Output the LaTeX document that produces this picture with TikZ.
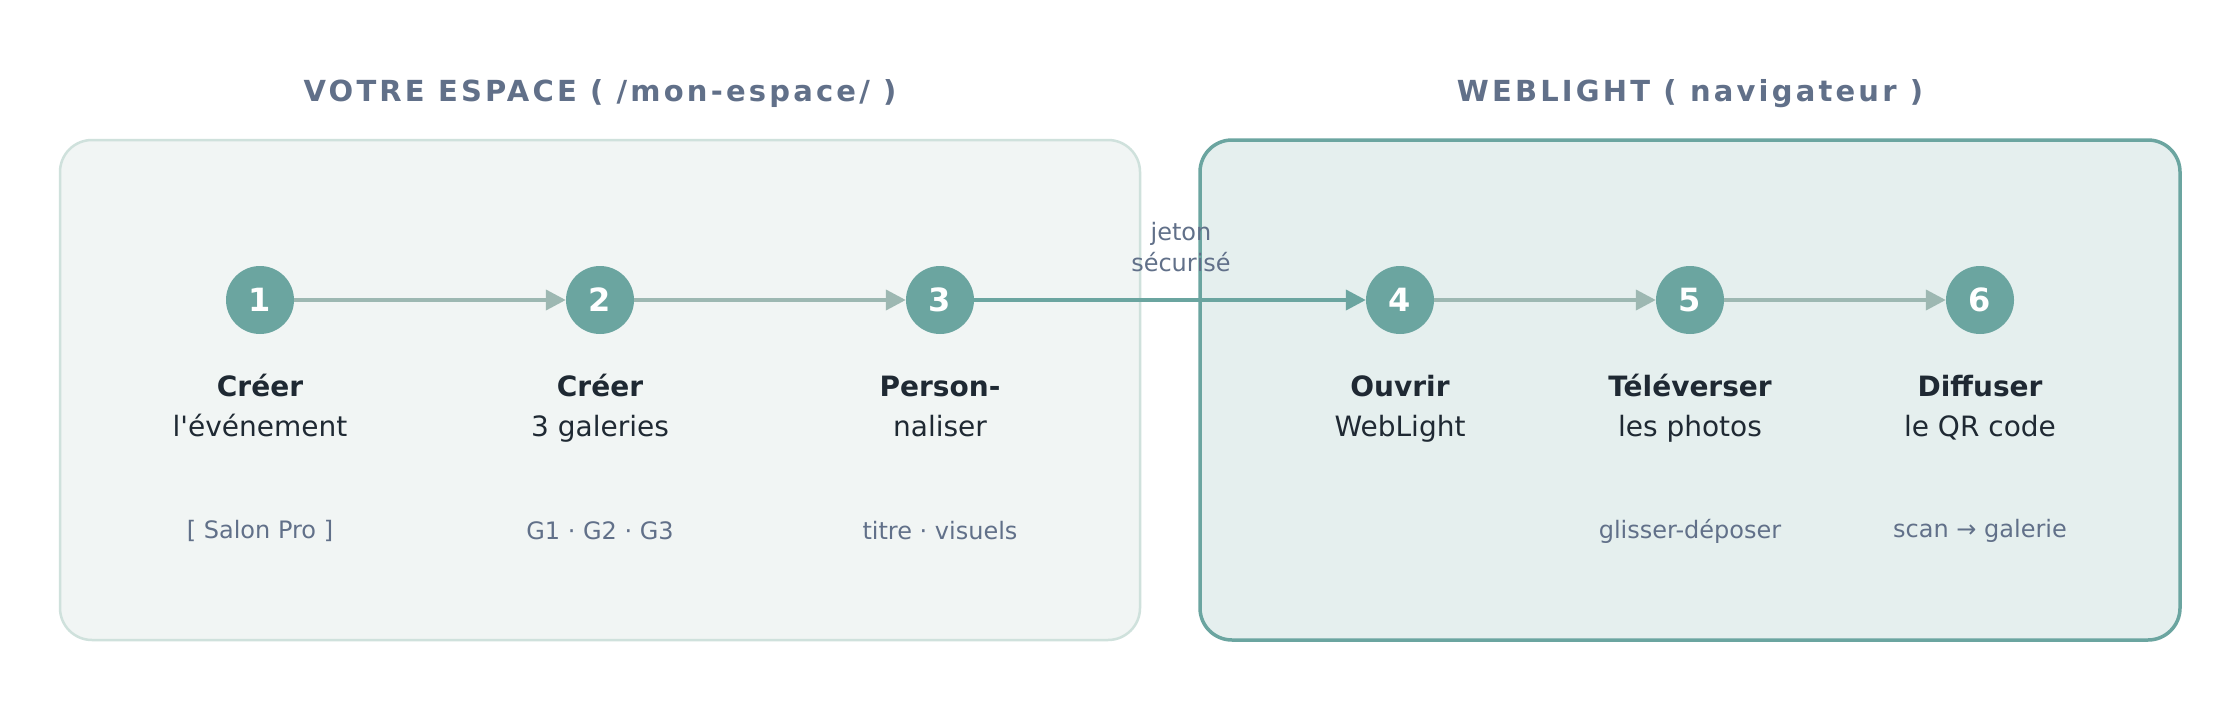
\documentclass[tikz,border=0pt]{standalone}
\usepackage{fontspec}
\setmainfont{DejaVu Sans}[Ligatures=TeXOff]
\usetikzlibrary{arrows.meta}
\definecolor{teal}{HTML}{6BA5A0}
\definecolor{garrow}{HTML}{9DB8B2}
\definecolor{lfill}{HTML}{F1F5F4}
\definecolor{lborder}{HTML}{CFE1DC}
\definecolor{rfill}{HTML}{E5EFEE}
\definecolor{dark}{HTML}{1F2933}
\definecolor{muted}{HTML}{617089}
\tikzset{
 x=1pt,y=-1pt,
 stepc/.style={circle,fill=teal,minimum size=68pt,inner sep=0pt,text=white,font=\fontsize{32}{34}\selectfont\bfseries},
 labb/.style={text=dark,font=\fontsize{28}{39}\selectfont\bfseries,anchor=base,inner sep=0pt},
 labn/.style={text=dark,font=\fontsize{28}{39}\selectfont,anchor=base,inner sep=0pt},
 sub/.style={text=muted,font=\fontsize{24}{26}\selectfont},
 ttl/.style={text=muted,font=\fontsize{29}{30}\selectfont\bfseries},
 flow/.style={draw=garrow,line width=4pt,-{Triangle[length=20pt,width=20pt]}},
}
\begin{document}
\begin{tikzpicture}
\useasboundingbox (0,0) rectangle (2240,720);
\fill[white] (0,0) rectangle (2240,720);
\draw[fill=lfill,draw=lborder,line width=2.5pt,rounded corners=32pt] (60,140) rectangle (1140,640);
\draw[fill=rfill,draw=teal,line width=3.5pt,rounded corners=32pt] (1200,140) rectangle (2180,640);
\node[ttl] (t1) at (600,94) {\addfontfeature{LetterSpace=11}VOTRE ESPACE ( /mon-espace/ )};
\node[ttl] (t2) at (1690,94) {\addfontfeature{LetterSpace=11}WEBLIGHT ( navigateur )};
\foreach \n/\x in {1/260,2/600,3/940,4/1400,5/1690,6/1980}
  \node[stepc] (c\n) at (\x,300) {\n};
\draw[flow] (c1) -- (c2);
\draw[flow] (c2) -- (c3);
\draw[flow,draw=teal] (c3) -- (c4);
\draw[flow] (c4) -- (c5);
\draw[flow] (c5) -- (c6);
\node[sub,align=center,font=\fontsize{24}{31}\selectfont] (tok) at (1181,247) {jeton\\sécurisé};
\foreach \n/\x/\a/\b in {1/260/Créer/l'événement,2/600/Créer/3 galeries,3/940/Person-/naliser,4/1400/Ouvrir/WebLight,5/1690/Téléverser/les photos,6/1980/Diffuser/le QR code}{
  \node[labb] (b\n) at (\x,396) {\a};
  \node[labn] (n\n) at (\x,436) {\b};
}
\node[sub] (s1) at (260,531) {[ Salon Pro ]};
\node[sub] (s2) at (600,531) {G1 · G2 · G3};
\node[sub] (s3) at (940,531) {titre · visuels};
\node[sub] (s5) at (1690,531) {glisser-déposer};
\node[sub] (s6) at (1980,531) {scan → galerie};
\end{tikzpicture}
\end{document}
